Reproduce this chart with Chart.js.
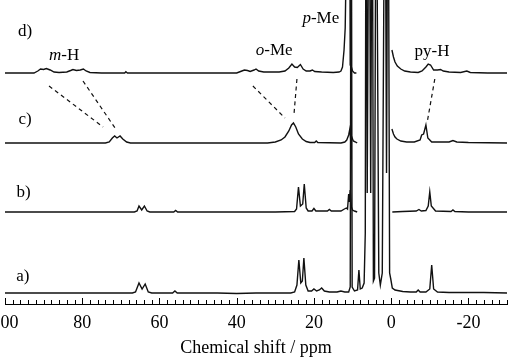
<!DOCTYPE html>
<html>
<head>
<meta charset="utf-8">
<script src="https://cdn.jsdelivr.net/npm/chart.js@4/dist/chart.umd.min.js"></script>
<style>
  html, body { margin: 0; padding: 0; background: #fff; }
</style>
</head>
<body>
<canvas id="nmr" width="514" height="363"></canvas>
<script>
// spectra as [ppm, intensity above own baseline]; null = trace cut out
const specA = [
    [100, 0], [67, 0], [66.2, 1], [65.3, 10], [64.5, 4], [63.7, 9], [62.9, 1], [62, 0],
    [56.6, 0], [56, 2], [55.4, 0], [45, 0], [40, -0.5], [35, 0], [26, 0], [25, 1],
    [24.4, 8], [23.9, 33], [23.4, 10], [23.0, 12], [22.6, 35], [22.1, 8], [21.5, 2],
    [20.6, 2], [20.0, 4], [19.3, 2], [18.6, 3], [18.0, 5], [17.3, 2], [16, 1], [14, 1],
    [13, 2], [12, 1], [11, 1], [10.6, 6], [10.35, 500], [10.1, 6], [9.5, 2], [8.7, 3],
    [8.35, 23], [8.0, 4], [7.5, 5], [7.0, 10], [6.7, 60], [6.5, 500], [6.2, 100],
    [5.7, 500], [5.3, 100], [4.9, 500], [4.6, 12], [4.3, 15], [3.9, 500], [3.2, 20],
    [2.8, 8], [2.3, 20], [1.6, 500], [1.2, 120], [0.8, 500], [0.4, 20], [0.1, 14],
    [-0.3, 5], [-1, 3], [-3, 1.5], [-5, 1], [-6.5, 1], [-7, 3], [-7.5, 1], [-9, 1],
    [-10, 4], [-10.5, 28], [-11, 4], [-12, 1], [-15, 0.5], [-20, 0.5], [-24, 0.5], [-30, 0]
];
const specB = [
    [100, 0], [66.5, 0], [65.8, 1], [65.3, 6], [64.6, 2], [63.9, 6], [63.2, 1], [62.5, 0],
    [56.3, 0], [55.8, 1.5], [55.3, 0], [30, 0], [25, 0.5], [24.5, 3], [24.0, 25],
    [23.5, 6], [22.9, 8], [22.5, 28], [22, 4], [21.5, 1], [20.5, 1], [20, 3.5], [19.5, 1],
    [16.5, 1], [16, 2.5], [15.5, 1], [13, 1], [12.1, 3], [11.6, 4], [11.3, 3], [11, 18],
    [10.8, 10], [10.6, 22], [10.3, 5], [10.0, 2], [9.5, 1], [8.8, 0],
    [4, null],
    [-0.3, 0], [-3, 0.5], [-6.5, 1], [-7.2, 2.5], [-7.8, 1], [-9, 1.5], [-9.6, 6],
    [-10.0, 20], [-10.4, 6], [-11.5, 1], [-15.5, 0.5], [-16, 2], [-16.5, 0.5], [-20, 0], [-30, 0]
];
const specC = [
    [100, 0], [74, 0], [73, 1], [72.2, 5], [71.6, 7], [71.0, 5], [70.2, 7], [69.5, 4],
    [68.5, 1], [67.5, 0], [32, 0], [30, 1], [28.5, 3], [27.5, 6], [26.5, 12], [25.8, 18],
    [25.3, 20], [24.7, 16], [24, 9], [23, 4], [22, 1.5], [21, 0.5], [19.8, 0.5],
    [19.4, 2], [19.0, 0.5], [13, 0], [12, 1], [11.5, 3], [11.0, 8], [10.7, 14],
    [10.5, 5], [10.2, 6], [9.8, 2], [9.2, 1], [8.8, 0],
    [4, null],
    [-0.2, 14], [-0.6, 9], [-1, 6], [-1.5, 4], [-2.5, 2], [-4, 1], [-6, 1], [-7.5, 3],
    [-7.9, 8], [-8.4, 9], [-9.0, 18], [-9.5, 5], [-10.5, 1], [-15, 1], [-16, 2.5],
    [-17, 1], [-20, 0.5], [-30, 0]
];
const specD = [
    [100, 0], [92.5, 0], [91.5, 2], [90.8, 4], [90, 3.5], [89.3, 4.5], [88.3, 3],
    [87.3, 1], [86, 0.5], [84, 1], [83, 2.5], [82.4, 3.5], [81.5, 2.5], [80.5, 3],
    [79.7, 4], [79, 2], [78, 0.5], [75, 0], [69, 0], [68.7, 1.2], [68.3, 0], [40, 0],
    [39, 1.5], [38, 3], [37.2, 2.5], [36.5, 1.5], [35.5, 3], [35, 4], [34.3, 2], [33, 1],
    [29, 1], [27.5, 2], [26.5, 5], [25.7, 9], [25, 6], [24.3, 5.5], [23.5, 8.5],
    [22.8, 4], [22, 2], [21, 2], [20.4, 3], [19.8, 1.5], [18, 1], [15, 0.5], [13.5, 1],
    [13, 2], [12.6, 6], [12.2, 23], [11.9, 45], [11.6, 120], [11.3, 500], [11.15, 100],
    [10.95, 500], [10.6, 8], [10.3, 6], [10.0, 2], [9.5, 0], [9.0, 0],
    [4, null],
    [-0.2, 23], [-0.6, 16], [-1.0, 11], [-1.6, 7], [-2.5, 4], [-3.5, 2], [-5, 1],
    [-7, 0.5], [-8, 2], [-9, 6], [-9.6, 9], [-10.2, 8], [-11, 3], [-12, 3], [-12.8, 3.5],
    [-13.5, 2], [-15, 1], [-18, 0.5], [-19.6, 2], [-20.5, 0.5], [-25, 0], [-30, 0]
];

// baseline of each trace, in y units
const offsets = { a: 11, b: 92, c: 161, d: 231 };

// dashed connectors between d) and c)
const links = [
    [[88.6, 218], [74.6, 177]],
    [[79.8, 223], [71.5, 176]],
    [[35.8, 218], [27.5, 186]],
    [[24.4, 225], [25.2, 188]],
    [[-11.3, 225], [-9.3, 181]]
];

const tickValues = [100, 80, 60, 40, 20, 0, -20];

// text on the plot: [parts, ppm, y]
const notes = [
    [[['d)', false]], 94.8, 272],
    [[['c)', false]], 94.8, 184],
    [[['b)', false]], 95.2, 111],
    [[['a)', false]], 95.4, 27],
    [[['m', true], ['-H', false]], 84.7, 248],
    [[['o', true], ['-Me', false]], 30.3, 253],
    [[['p', true], ['-Me', false]], 18.2, 285],
    [[['py-H', false]], -10.6, 252]
];

const serif = "'Liberation Serif', 'Times New Roman', serif";

function toPoints(spec, off) {
    return spec.map(p => ({ x: p[0], y: p[1] === null ? null : p[1] + off }));
}

const datasets = [];
[['a', specA], ['b', specB], ['c', specC], ['d', specD]].forEach(([k, s]) => {
    datasets.push({
        data: toPoints(s, offsets[k]),
        borderColor: '#111',
        borderWidth: 1.4,
        pointRadius: 0,
        tension: 0,
        spanGaps: false
    });
});
links.forEach(l => {
    datasets.push({
        data: l.map(p => ({ x: p[0], y: p[1] })),
        borderColor: '#111',
        borderWidth: 1.2,
        borderDash: [4, 3.5],
        pointRadius: 0,
        tension: 0
    });
});

const decor = {
    id: 'decor',
    afterDraw(chart) {
        const ctx = chart.ctx;
        const xs = chart.scales.x, ys = chart.scales.y;
        const base = chart.chartArea.bottom;
        ctx.save();
        // inward ticks
        ctx.strokeStyle = '#000';
        ctx.lineWidth = 1;
        ctx.beginPath();
        for (let v = -30; v <= 100; v += 2) {
            const px = Math.round(xs.getPixelForValue(v)) + 0.5;
            const len = v % 20 === 0 ? 6 : 4;
            ctx.moveTo(px, base);
            ctx.lineTo(px, base - len);
        }
        ctx.stroke();
        // labels
        ctx.fillStyle = '#000';
        ctx.textBaseline = 'middle';
        ctx.textAlign = 'left';
        notes.forEach(([parts, ppm, yv]) => {
            const fonts = parts.map(p => (p[1] ? 'italic ' : '') + '17px ' + serif);
            let w = 0;
            parts.forEach((p, i) => { ctx.font = fonts[i]; w += ctx.measureText(p[0]).width; });
            let x = xs.getPixelForValue(ppm) - w / 2;
            const y = ys.getPixelForValue(yv);
            parts.forEach((p, i) => {
                ctx.font = fonts[i];
                ctx.fillText(p[0], x, y);
                x += ctx.measureText(p[0]).width;
            });
        });
        ctx.restore();
    }
};

new Chart(document.getElementById('nmr'), {
    type: 'line',
    data: { datasets: datasets },
    options: {
        responsive: false,
        animation: false,
        layout: { padding: { left: 5, right: 7, top: 0, bottom: 0 } },
        plugins: { legend: { display: false }, tooltip: { enabled: false } },
        scales: {
            x: {
                type: 'linear',
                reverse: true,
                min: -30,
                max: 100,
                grid: { display: false, drawTicks: false },
                border: { display: true, color: '#000', width: 1 },
                ticks: {
                    padding: 8,
                    autoSkip: false,
                    maxRotation: 0,
                    color: '#000',
                    font: { family: serif, size: 18 },
                    callback: v => String(v)
                },
                afterBuildTicks: s => { s.ticks = tickValues.map(v => ({ value: v })); },
                title: {
                    display: true,
                    text: 'Chemical shift / ppm',
                    color: '#000',
                    font: { family: serif, size: 18 },
                    padding: { top: 0, bottom: 4 }
                },
                afterFit: s => { s.height = 59; s.paddingLeft = 0; s.paddingRight = 0; }
            },
            y: { display: false, min: 0, max: 304 }
        }
    },
    plugins: [decor]
});
</script>
</body>
</html>
